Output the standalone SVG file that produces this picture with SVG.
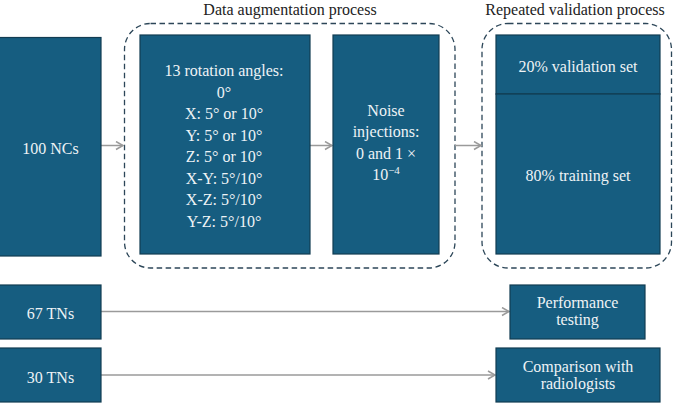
<svg xmlns="http://www.w3.org/2000/svg" width="673" height="403" viewBox="0 0 673 403">
<style>
.box{fill:#165d80;stroke:#123c52;stroke-width:1.2}
.t{font-family:"Liberation Serif","Times New Roman",serif;font-size:16px;fill:#eef3f6;text-anchor:middle}
.h{font-family:"Liberation Serif","Times New Roman",serif;font-size:16px;fill:#222;text-anchor:middle}
.dash{fill:none;stroke:#2c4658;stroke-width:1.3;stroke-dasharray:5.5 3.5}
.c{fill:none;stroke:#9a9a9a;stroke-width:1.5}
</style>
<defs>
<marker id="a" markerWidth="10" markerHeight="10" refX="8" refY="5" orient="auto" markerUnits="userSpaceOnUse">
<path d="M1,1 L8,5 L1,9" fill="none" stroke="#9a9a9a" stroke-width="1.5"/>
</marker>
</defs>
<rect width="673" height="403" fill="#fff"/>
<g id="titles">
<text class="h" x="290" y="14.5">Data augmentation process</text>
<text class="h" x="575" y="14.5">Repeated validation process</text>
</g>
<g id="groups">
<rect class="dash" x="124.5" y="23.5" width="330.5" height="244.5" rx="26"/>
<rect class="dash" x="482" y="23.5" width="189.5" height="244.5" rx="26"/>
</g>
<g id="connectors">
<line class="c" x1="101" y1="145.5" x2="123" y2="145.5" marker-end="url(#a)"/>
<line class="c" x1="310" y1="145.5" x2="332" y2="145.5" marker-end="url(#a)"/>
<line class="c" x1="455" y1="145.5" x2="481" y2="145.5" marker-end="url(#a)"/>
<line class="c" x1="101" y1="311.5" x2="509" y2="311.5" marker-end="url(#a)"/>
<line class="c" x1="101" y1="375" x2="495" y2="375" marker-end="url(#a)"/>
</g>
<g id="n100">
<rect class="box" x="-1" y="37.5" width="102" height="218.5"/>
<text class="t" x="50.5" y="154">100 NCs</text>
</g>
<g id="rotation">
<rect class="box" x="140" y="35" width="170" height="219"/>
<text class="t" x="224" y="76">13 rotation angles:</text>
<text class="t" x="224" y="97.5">0°</text>
<text class="t" x="224" y="119">X: 5° or 10°</text>
<text class="t" x="224" y="140.5">Y: 5° or 10°</text>
<text class="t" x="224" y="162">Z: 5° or 10°</text>
<text class="t" x="224" y="183.5">X-Y: 5°/10°</text>
<text class="t" x="224" y="205">X-Z: 5°/10°</text>
<text class="t" x="224" y="226.5">Y-Z: 5°/10°</text>
</g>
<g id="noise">
<rect class="box" x="333" y="35" width="106" height="219"/>
<text class="t" x="386" y="116">Noise</text>
<text class="t" x="386" y="137">injections:</text>
<text class="t" x="386" y="158.5">0 and 1 ×</text>
<text class="t" x="386" y="180">10<tspan font-size="11" dy="-6">−4</tspan></text>
</g>
<g id="validation">
<rect class="box" x="496" y="35" width="164" height="59"/>
<text class="t" x="578" y="71.5">20% validation set</text>
</g>
<g id="training">
<rect class="box" x="496" y="94" width="164" height="160"/>
<text class="t" x="578" y="180.5">80% training set</text>
</g>
<g id="tn67">
<rect class="box" x="-1" y="285" width="102" height="54"/>
<text class="t" x="50.5" y="319">67 TNs</text>
</g>
<g id="tn30">
<rect class="box" x="-1" y="348" width="102" height="54"/>
<text class="t" x="50.5" y="382.5">30 TNs</text>
</g>
<g id="perf">
<rect class="box" x="510" y="285" width="135" height="54"/>
<text class="t" x="577.5" y="307.5">Performance</text>
<text class="t" x="577.5" y="325">testing</text>
</g>
<g id="comp">
<rect class="box" x="496" y="348" width="164" height="54"/>
<text class="t" x="578" y="371.5">Comparison with</text>
<text class="t" x="578" y="389">radiologists</text>
</g>
</svg>
